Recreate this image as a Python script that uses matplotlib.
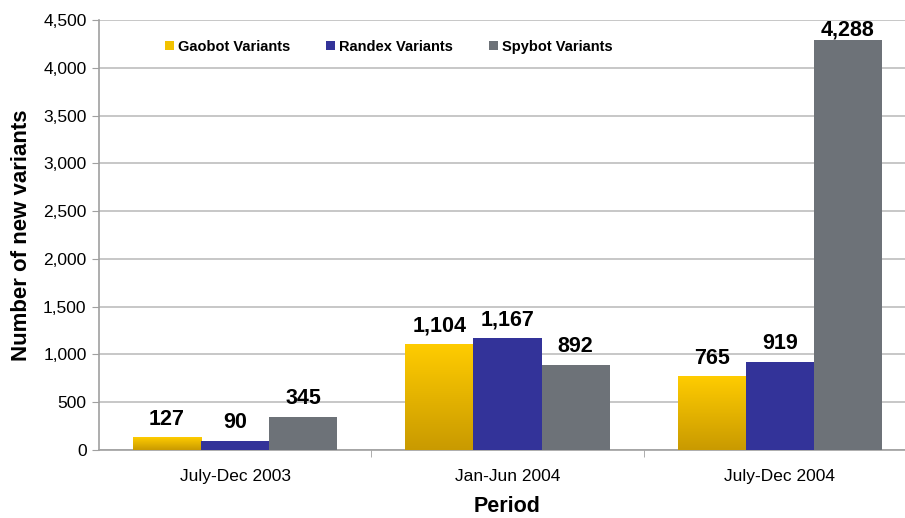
import numpy as np
import matplotlib as mpl
mpl.use('Agg')
import matplotlib.pyplot as plt
from matplotlib.colors import LinearSegmentedColormap
from matplotlib.patches import Patch

plt.rcParams['font.family'] = ['Liberation Sans', 'DejaVu Sans']

# --- data
periods = ['July-Dec 2003', 'Jan-Jun 2004', 'July-Dec 2004']
series = ['Gaobot Variants', 'Randex Variants', 'Spybot Variants']
gaobot = [127, 1104, 765]
randex = [90, 1167, 919]
spybot = [345, 892, 4288]

colors = ['#F2C200', '#333399', '#6D7278']
gold_cmap = LinearSegmentedColormap.from_list('gold', ['#C99A00', '#FFCC00'])

ymax = 4500

fig = plt.figure(figsize=(9.05, 5.18), dpi=100)
ax = fig.add_axes([99/905, 1-450/518, 817/905, 430/518])

x = np.arange(len(periods))
w = 0.25
for i, (name, vals, c) in enumerate(zip(series, [gaobot, randex, spybot], colors)):
    xs = x + (i - 1)*w
    bars = ax.bar(xs, vals, width=w, color=c, zorder=3, linewidth=0)
    if i == 0:
        # vertical gradient on the yellow bars
        for b in bars:
            b.set_facecolor('none')
            x0, y0 = b.get_x(), b.get_y()
            ax.imshow(np.linspace(0, 1, 256).reshape(-1, 1), cmap=gold_cmap, origin='lower',
                      extent=[x0, x0 + b.get_width(), y0, y0 + b.get_height()],
                      aspect='auto', zorder=3)
    for xi, v in zip(xs, vals):
        # labels sit above the bar, but are kept inside the plot area
        ax.text(xi, min(v + 136, ymax - 167), f'{v:,}', ha='center', va='baseline',
                fontsize=15.5, fontweight='bold', zorder=4)

ax.set_xlim(-0.5, 2.5)
ax.set_ylim(0, ymax)
ax.set_yticks(np.arange(0, ymax + 1, 500))
ax.set_yticklabels([f'{t:,}' for t in range(0, ymax + 1, 500)], fontsize=12.5)
ax.yaxis.grid(True, color='#BDBDBD', lw=1.2, zorder=0)
ax.set_axisbelow(True)

ax.set_xticks(x)
ax.set_xticklabels(periods, fontsize=12.5)
ax.set_xticks([0.5, 1.5], minor=True)
ax.tick_params(axis='x', which='major', length=0, pad=14)
ax.tick_params(axis='x', which='minor', length=5, color='#A0A0A0')
ax.tick_params(axis='y', length=5, color='#A0A0A0', pad=4)

for s in ['top', 'right']:
    ax.spines[s].set_visible(False)
ax.spines['left'].set_color('#A0A0A0')
ax.spines['bottom'].set_color('#A0A0A0')
ax.spines['left'].set_linewidth(1.2)
ax.spines['bottom'].set_linewidth(1.2)

ax.set_xlabel('Period', fontsize=15.5, fontweight='bold', labelpad=8)
ax.set_ylabel('Number of new variants', fontsize=16, fontweight='bold', labelpad=8)

handles = [Patch(facecolor=c, edgecolor='none', label=n) for n, c in zip(series, colors)]
ax.legend(handles=handles, loc='upper left', bbox_to_anchor=(0.065, 0.985), ncol=3, frameon=False,
          handlelength=0.6, handleheight=0.6, handletextpad=0.3, columnspacing=2.45,
          prop={'weight': 'bold', 'size': 10.5})

fig.savefig('out.png', dpi=100)
